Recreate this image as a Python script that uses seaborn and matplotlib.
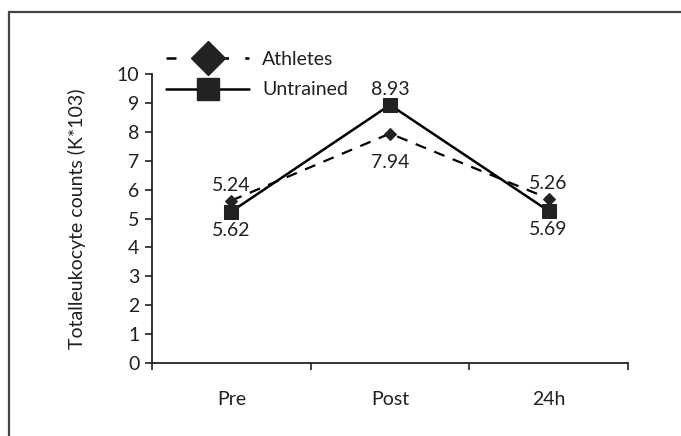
import matplotlib
matplotlib.use("Agg")
import matplotlib.pyplot as plt
import seaborn as sns
import pandas as pd
from matplotlib.lines import Line2D
from matplotlib.patches import Rectangle

# ---- data ----
times = ["Pre", "Post", "24h"]
athletes = [5.62, 7.94, 5.69]
untrained = [5.24, 8.93, 5.26]
y_ticks = list(range(0, 11))
y_label = "Totalleukocyte counts (K*103)"

sns.set_theme(style="white")
plt.rcParams["font.family"] = ["Lato", "DejaVu Sans"]
TXT = "#231f20"
FS = 14

df_a = pd.DataFrame({"time": times, "count": athletes})
df_u = pd.DataFrame({"time": times, "count": untrained})

fig = plt.figure(figsize=(6.81, 4.36), dpi=100)
ax = fig.add_axes([152/681, 1-363/436, (628-152)/681, (363-74)/436])

sns.lineplot(data=df_a, x="time", y="count", ax=ax, color="black", lw=1.6,
             marker="D", markersize=6, linestyle=(0, (5, 4)), sort=False)
sns.lineplot(data=df_u, x="time", y="count", ax=ax, color="black", lw=1.8,
             marker="s", markersize=10, sort=False)
for ln in ax.lines:
    ln.set_markeredgecolor("#222222")
    ln.set_markerfacecolor("#222222")

# value labels (offsets in points below the lower marker)
below_off = [-13.5, -20.5, -13]
for i, (a, u) in enumerate(zip(athletes, untrained)):
    hi, lo = max(a, u), min(a, u)
    ax.annotate(f"{u:.2f}", (i, hi), xytext=(0, 11), textcoords="offset points",
                ha="center", va="center", fontsize=FS, color=TXT)
    ax.annotate(f"{a:.2f}", (i, lo), xytext=(0, below_off[i]), textcoords="offset points",
                ha="center", va="center", fontsize=FS, color=TXT)

ax.set_xlim(-0.5, len(times) - 0.5)
ax.set_ylim(0, 10)
ax.set_yticks(y_ticks)
ax.set_yticklabels([str(t) for t in y_ticks], fontsize=FS, color=TXT)
ax.set_xticks([i - 0.5 for i in range(len(times) + 1)])
ax.set_xticklabels([])
ax.set_xticks(range(len(times)), minor=True)
ax.set_xticklabels(times, minor=True, fontsize=FS, color=TXT)
ax.tick_params(axis="x", which="minor", length=0, pad=20)
ax.tick_params(axis="x", which="major", length=5, width=1.2, color="#222222", direction="out", bottom=True)
ax.tick_params(axis="y", length=5, width=1.2, color="#222222", direction="out", left=True, pad=4)
ax.set_xlabel("")
ax.set_ylabel(y_label, fontsize=FS, color=TXT, labelpad=22)
for s in ["top", "right"]:
    ax.spines[s].set_visible(False)
for s in ["left", "bottom"]:
    ax.spines[s].set_color("#222222")
    ax.spines[s].set_linewidth(1.3)

handles = [
    Line2D([], [], color="black", lw=1.8, linestyle=(0, (4, 6.5)), marker="D",
           markersize=17, markerfacecolor="#222222", markeredgecolor="#222222"),
    Line2D([], [], color="black", lw=1.8, marker="s", markersize=16,
           markerfacecolor="#222222", markeredgecolor="#222222"),
]
leg = fig.legend(handles, ["Athletes", "Untrained"], loc="upper left",
                 bbox_to_anchor=(156/681, 1-41/436), frameon=False,
                 fontsize=FS, handlelength=4.3, handletextpad=0.65,
                 labelspacing=0.7, borderpad=0)
for t in leg.get_texts():
    t.set_color(TXT)

fig.add_artist(Rectangle((8.5/681, -0.1), 1.2, 1.1 - 12.5/436, transform=fig.transFigure,
                         fill=False, edgecolor="#444444", lw=1.6))

fig.savefig("out.png", dpi=100)
